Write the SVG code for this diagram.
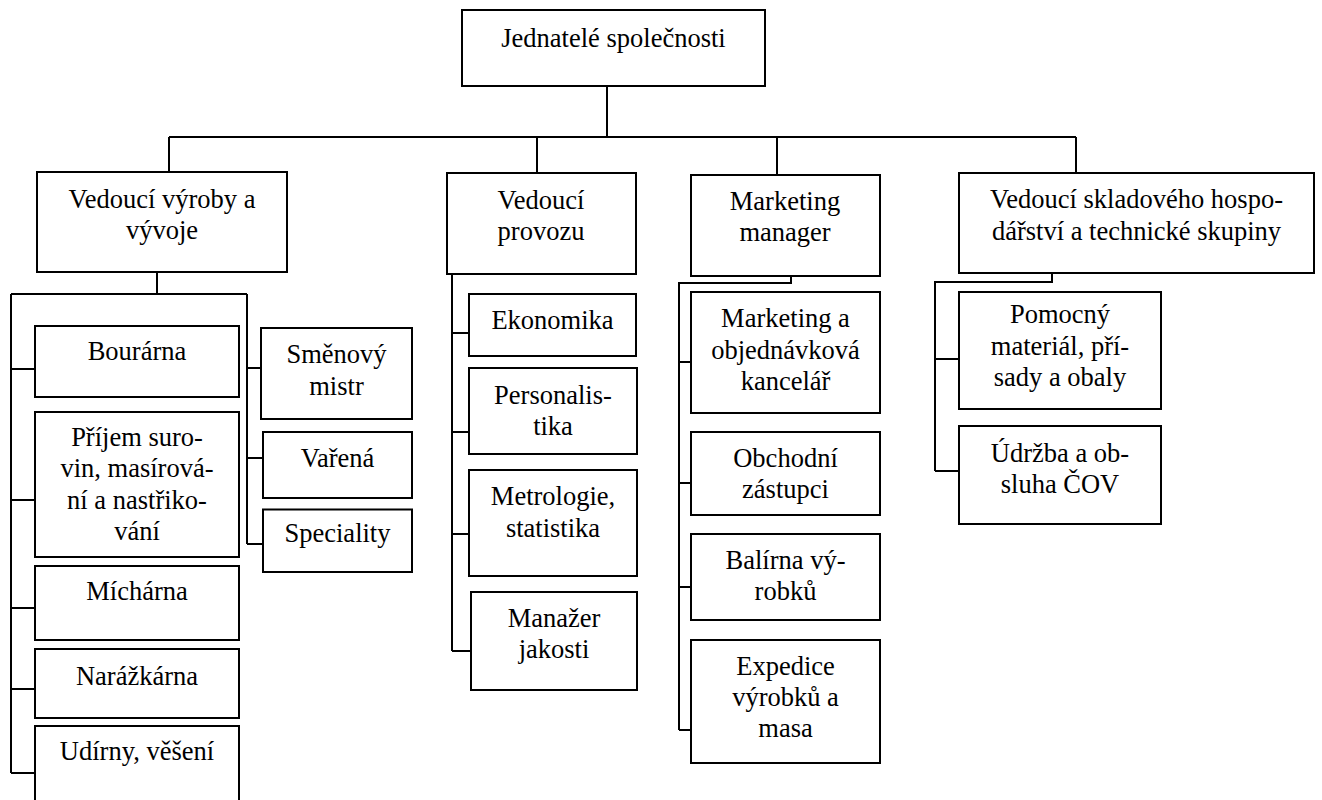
<svg xmlns="http://www.w3.org/2000/svg" width="1322" height="800" viewBox="0 0 1322 800">
<style>
.box{fill:#fff;stroke:#000;stroke-width:2}
.ln{fill:none;stroke:#000;stroke-width:2}
.lbl text{font-family:'Liberation Serif','Times New Roman',serif;font-size:26.5px;fill:#000;text-anchor:middle}
</style>
<rect width="1322" height="800" fill="#fff"/>
<g id="connectors" class="ln">
<path d="M607 86V137M169 137H1076M169 137V172M537 137V173M777 137V175M1076 137V173"/>
<path d="M157 272V294M11 294H247M11 294V773M247 294V544"/>
<path d="M11 369H35M11 500H35M11 608H35M11 689H35M11 773H35"/>
<path d="M247 368H261M247 458H263M247 544H263"/>
<path d="M452 274V651M452 333H469M452 432H469M452 534H469M452 651H471"/>
<path d="M791 276V283H679V730M679 362H691M679 483H691M679 587H691M679 730H691"/>
<path d="M1052 273V282H935V471M935 359H959M935 471H959"/>
</g>
<g class="lbl">
<g id="n-top"><rect class="box" x="462" y="10" width="303" height="76"/><text x="613.5" y="47">Jednatelé společnosti</text></g>
<g id="n-vyroba"><rect class="box" x="37" y="172" width="250" height="100"/><text x="162" y="208">Vedoucí výroby a</text><text x="162" y="239">vývoje</text></g>
<g id="n-provoz"><rect class="box" x="447" y="173" width="189" height="101"/><text x="541" y="209">Vedoucí</text><text x="541" y="240">provozu</text></g>
<g id="n-marketing"><rect class="box" x="691" y="175" width="189" height="101"/><text x="785" y="210">Marketing</text><text x="785" y="241">manager</text></g>
<g id="n-sklad"><rect class="box" x="959" y="173" width="355" height="100"/><text x="1136.5" y="208">Vedoucí skladového hospo-</text><text x="1136.5" y="240">dářství a technické skupiny</text></g>
<g id="n-bourarna"><rect class="box" x="35" y="326" width="204" height="71"/><text x="137" y="360">Bourárna</text></g>
<g id="n-prijem"><rect class="box" x="35" y="412" width="204" height="145"/><text x="137" y="446">Příjem suro-</text><text x="137" y="477">vin, masírová-</text><text x="137" y="508.5">ní a nastřiko-</text><text x="137" y="540">vání</text></g>
<g id="n-micharna"><rect class="box" x="35" y="566" width="204" height="74"/><text x="137" y="600">Míchárna</text></g>
<g id="n-narazkarna"><rect class="box" x="35" y="649" width="204" height="69"/><text x="137" y="685">Narážkárna</text></g>
<g id="n-udirny"><rect class="box" x="35" y="726" width="204" height="90"/><text x="137" y="760">Udírny, věšení</text></g>
<g id="n-smenovy"><rect class="box" x="261" y="328" width="151" height="91"/><text x="336.5" y="363">Směnový</text><text x="336.5" y="395">mistr</text></g>
<g id="n-varena"><rect class="box" x="263" y="432" width="149" height="66"/><text x="337.5" y="467">Vařená</text></g>
<g id="n-speciality"><rect class="box" x="263" y="509.5" width="149" height="62.5"/><text x="337.5" y="541.5">Speciality</text></g>
<g id="n-ekonomika"><rect class="box" x="469" y="294" width="167" height="62"/><text x="552.5" y="328.5">Ekonomika</text></g>
<g id="n-personalistika"><rect class="box" x="469" y="368" width="168" height="86"/><text x="553" y="404">Personalis-</text><text x="553" y="434.5">tika</text></g>
<g id="n-metrologie"><rect class="box" x="469" y="470" width="168" height="106"/><text x="553" y="505">Metrologie,</text><text x="553" y="536.5">statistika</text></g>
<g id="n-manazer"><rect class="box" x="471" y="592" width="166" height="98"/><text x="554" y="626.5">Manažer</text><text x="554" y="658">jakosti</text></g>
<g id="n-mkt-kancelar"><rect class="box" x="691" y="292" width="189" height="121"/><text x="785.5" y="327">Marketing a</text><text x="785.5" y="359">objednávková</text><text x="785.5" y="390">kancelář</text></g>
<g id="n-obchodni"><rect class="box" x="691" y="432" width="189" height="83"/><text x="785.5" y="466.5">Obchodní</text><text x="785.5" y="498">zástupci</text></g>
<g id="n-balirna"><rect class="box" x="691" y="534" width="189" height="86"/><text x="785.5" y="568.5">Balírna vý-</text><text x="785.5" y="600">robků</text></g>
<g id="n-expedice"><rect class="box" x="691" y="640" width="189" height="123"/><text x="785.5" y="675">Expedice</text><text x="785.5" y="706">výrobků a</text><text x="785.5" y="737">masa</text></g>
<g id="n-pomocny"><rect class="box" x="959" y="292" width="202" height="117"/><text x="1060" y="323">Pomocný</text><text x="1060" y="354.5">materiál, pří-</text><text x="1060" y="386">sady a obaly</text></g>
<g id="n-udrzba"><rect class="box" x="959" y="426" width="202" height="98"/><text x="1060" y="461.5">Údržba a ob-</text><text x="1060" y="492.5">sluha ČOV</text></g>
</g>
</svg>
